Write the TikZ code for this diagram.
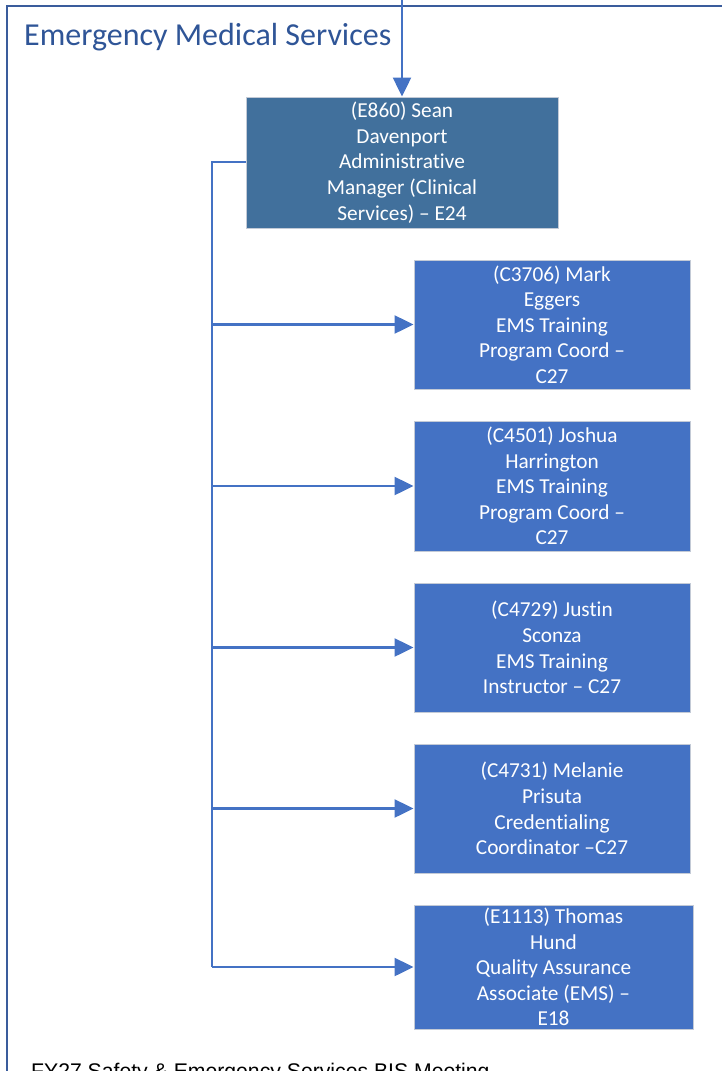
\documentclass[tikz,border=0pt]{standalone}
\usepackage{fontspec}
\setmainfont{Carlito}[Ligatures=NoCommon]
\newfontfamily\footfont{Liberation Sans}
\usetikzlibrary{arrows.meta}
\definecolor{framecol}{HTML}{3A5C9C}
\definecolor{titlecol}{HTML}{2F5597}
\definecolor{headfill}{HTML}{41709C}
\definecolor{childfill}{HTML}{4472C4}
\definecolor{boxedge}{HTML}{C3CAD6}
\definecolor{linkcol}{HTML}{4472C4}
\tikzset{
  headbox/.style={draw=boxedge, line width=1pt, fill=headfill, text=white,
    font=\fontsize{21.3}{25.6}\selectfont, align=center, inner sep=0pt},
  childbox/.style={draw=boxedge, line width=1pt, fill=childfill, text=white,
    font=\fontsize{21.3}{25.6}\selectfont, align=center, inner sep=0pt},
  link/.style={draw=linkcol, line width=2.5pt},
  linkarrow/.style={link, -{Triangle[length=19pt,width=18pt]}},
}
\begin{document}
\begin{tikzpicture}[x=1pt,y=-1pt]
\useasboundingbox (0,0) rectangle (722,1071);
\clip (0,0) rectangle (722,1071);

% outer frame of the section
\draw[framecol, line width=2.5pt] (7,1090) -- (7,6) -- (740,6);
\node[anchor=base west, text=titlecol, font=\fontsize{32}{36}\selectfont, inner sep=0pt]
  (title) at (24,45) {Emergency Medical Services};

% manager
\node[headbox, minimum width=312pt, minimum height=131pt] (mgr) at (402,162.5)
  {(E860) Sean\\Davenport\\Administrative\\Manager (Clinical\\Services) -- E24};

% direct reports
\node[childbox, minimum width=276pt, minimum height=129pt] (c1) at (552,324.5)
  {(C3706) Mark\\Eggers\\EMS Training\\Program Coord --\\C27};
\node[childbox, minimum width=276pt, minimum height=130pt] (c2) at (552,486)
  {(C4501) Joshua\\Harrington\\EMS Training\\Program Coord --\\C27};
\node[childbox, minimum width=276pt, minimum height=129pt] (c3) at (552,647.5)
  {(C4729) Justin\\Sconza\\EMS Training\\Instructor -- C27};
\node[childbox, minimum width=276pt, minimum height=129pt] (c4) at (552,808.5)
  {(C4731) Melanie\\Prisuta\\Credentialing\\Coordinator --C27};
\node[childbox, minimum width=279pt, minimum height=124pt] (c5) at (553.5,967)
  {(E1113) Thomas\\Hund\\Quality Assurance\\Associate (EMS) --\\E18};

% incoming line from above
\coordinate (incoming) at (402,-5);
\draw[linkarrow] (incoming) -- (mgr.north);

% reporting lines
\coordinate (bus) at (212,162);
\draw[link] (mgr.west |- bus) -- (bus) -- (212,967);
\foreach \c in {c1,c2,c3,c4,c5}
  \draw[linkarrow] (212,0 |- \c.west) -- (\c.west);

% footer
\node[anchor=base west, font=\footfont\fontsize{21.2}{25}\selectfont, inner sep=0pt]
  (footer) at (31,1078) {FY27 Safety \& Emergency Services BIS Meeting};
\end{tikzpicture}
\end{document}
